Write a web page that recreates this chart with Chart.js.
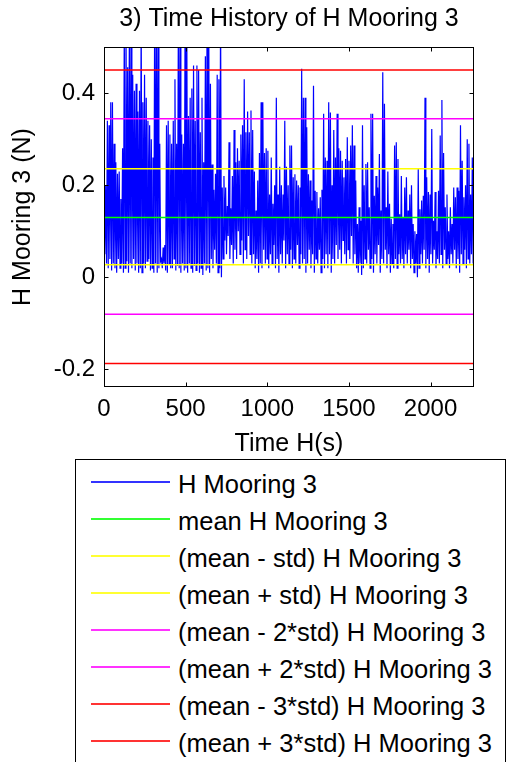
<!DOCTYPE html>
<html>
<head>
<meta charset="utf-8">
<script src="https://cdn.jsdelivr.net/npm/chart.js@4.4.1/dist/chart.umd.min.js"></script>
<style>
  html, body { margin: 0; padding: 0; background: #fff; overflow: hidden; }
  #wrap { position: relative; width: 507px; height: 762px; }
  #legend {
    position: absolute; left: 75px; top: 459px; width: 431px; height: 320px;
    border: 1px solid #000; box-sizing: border-box; background: #fff;
    font-family: 'Liberation Sans', Arial, sans-serif; font-size: 25.5px; color: #000;
  }
  .swatch { position: absolute; left: 15px; width: 79px; height: 2px; opacity: 0.8; }
  .label { position: absolute; left: 102px; line-height: 30px; white-space: nowrap; }
</style>
</head>
<body>
<div id="wrap">
  <canvas id="chart" width="507" height="762"></canvas>
  <div id="legend"></div>
</div>
<script>
// Time history (peak, trough, peak, trough ...)
const seriesName = 'H Mooring 3';
const tEnd = 2266;
const hMooring3 = [
  // 0 - 460 s
  0.18,0.05, 0.20,0.03, 0.34,0.02, 0.33,0.04, 0.38,0.015, 0.38,0.03, 0.29,0.02, 0.25,0.01,
  0.225,0.04, 0.23,0.02, 0.17,0.03, 0.28,0.01, 0.55,0.02, 0.58,0.035, 0.456,0.01, 0.52,0.03,
  0.56,0.02, 0.44,0.04, 0.405,0.015, 0.42,0.03, 0.36,0.01, 0.405,0.02, 0.57,0.01, 0.38,0.03,
  0.44,0.02, 0.39,0.035, 0.34,0.04, 0.33,0.015, 0.30,0.02, 0.26,0.01, 0.60,0.03, 0.55,0.01,
  0.58,0.02, 0.29,0.035, 0.04,0.02, 0.065,0.03, 0.07,0.015, 0.33,0.01, 0.34,0.03, 0.31,0.02,
  0.29,0.02, 0.34,0.04, 0.43,0.015, 0.29,0.025,
  // 460 - 910 s
  0.55,0.02, 0.56,0.01, 0.31,0.03, 0.29,0.015, 0.57,0.02, 0.55,0.01, 0.35,0.03, 0.39,0.02,
  0.41,0.01, 0.46,0.025, 0.34,0.015, 0.46,0.03, 0.45,0.01, 0.315,0.02, 0.39,0.005, 0.25,0.03,
  0.48,0.015, 0.56,0.02, 0.55,0.01, 0.42,0.04, 0.245,0.02, 0.19,0.06, 0.225,0.03, 0.44,0.01,
  0.43,0.02, 0.58,0.0, 0.195,0.04, 0.22,0.08, 0.195,0.05, 0.155,0.09, 0.293,0.04, 0.15,0.07,
  0.22,0.03, 0.32,0.06, 0.25,0.04, 0.28,0.1, 0.253,0.05, 0.31,0.08, 0.33,0.03, 0.43,0.06,
  0.315,0.04, 0.36,0.09, 0.315,0.05, 0.362,0.03,
  // 910 - 1360 s
  0.32,0.05, 0.23,0.02, 0.145,0.04, 0.21,0.01, 0.27,0.03, 0.38,0.02, 0.38,0.06, 0.27,0.03,
  0.28,0.04, 0.275,0.02, 0.18,0.05, 0.26,0.03, 0.16,0.07, 0.20,0.02, 0.39,0.04, 0.18,0.01,
  0.24,0.05, 0.20,0.03, 0.18,0.08, 0.34,0.02, 0.24,0.05, 0.20,0.03, 0.286,0.06, 0.286,0.02,
  0.217,0.04, 0.224,0.03, 0.21,0.07, 0.20,0.02, 0.195,0.05, 0.453,0.03, 0.39,0.04, 0.39,0.01,
  0.326,0.03, 0.224,0.06, 0.21,0.02, 0.167,0.05, 0.416,0.01, 0.188,0.04, 0.185,0.03, 0.15,0.06,
  0.174,0.01, 0.19,0.04, 0.355,0.02, 0.26,0.05,
  // 1360 - 1810 s
  0.253,0.02, 0.38,0.05, 0.358,0.01, 0.20,0.04, 0.32,0.03, 0.26,0.07, 0.355,0.04, 0.28,0.06,
  0.275,0.03, 0.253,0.08, 0.217,0.05, 0.257,0.03, 0.304,0.06, 0.253,0.04, 0.286,0.09, 0.33,0.03,
  0.286,0.05, 0.21,0.02, 0.116,0.01, 0.152,0.03, 0.123,0.005, 0.33,0.02, 0.20,0.04, 0.246,0.03,
  0.25,0.06, 0.152,0.02, 0.355,0.04, 0.355,0.01, 0.177,0.05, 0.22,0.03, 0.195,0.07, 0.268,0.01,
  0.145,0.04, 0.445,0.03, 0.377,0.06, 0.152,0.02, 0.23,0.05, 0.16,0.01, 0.127,0.03, 0.116,0.02,
  0.286,0.04, 0.293,0.02, 0.257,0.05, 0.137,0.03,
  // 1810 - 2266 s
  0.22,0.04, 0.13,0.02, 0.195,0.05, 0.217,0.03, 0.145,0.06, 0.18,0.02, 0.20,0.04, 0.116,0.01,
  0.10,0.03, 0.094,0.0, 0.235,0.02, 0.148,0.05, 0.167,0.03, 0.177,0.06, 0.39,0.02, 0.217,0.04,
  0.185,0.01, 0.18,0.05, 0.322,0.03, 0.123,0.06, 0.185,0.02, 0.10,0.04, 0.188,0.03, 0.308,0.05,
  0.385,0.02, 0.27,0.06, 0.152,0.03, 0.18,0.04, 0.10,0.02, 0.152,0.05, 0.116,0.03, 0.195,0.06,
  0.174,0.02, 0.195,0.04, 0.188,0.01, 0.33,0.05, 0.253,0.03, 0.174,0.06, 0.20,0.02, 0.30,0.04,
  0.29,0.03, 0.18,0.05, 0.26,0.03, 0.246
];

// Horizontal statistic lines
const statNames = [
  'mean H Mooring 3',
  '(mean - std) H Mooring 3',
  '(mean + std) H Mooring 3',
  '(mean - 2*std) H Mooring 3',
  '(mean + 2*std) H Mooring 3',
  '(mean - 3*std) H Mooring 3',
  '(mean + 3*std) H Mooring 3'
];
const statLevels = [0.1297, 0.0272, 0.2360, -0.0800, 0.3440, -0.1868, 0.4500];
const statColors = ['#00ff00', '#ffff00', '#ffff00', '#ff00ff', '#ff00ff', '#ff0000', '#ff0000'];

const xTicks = [0, 500, 1000, 1500, 2000];
const xTickLabels = ['0', '500', '1000', '1500', '2000'];
const yTicks = [-0.2, 0, 0.2, 0.4];
const yTickLabels = ['-0.2', '0', '0.2', '0.4'];
const yMin = -0.238, yMax = 0.5;

const FONT = "'Liberation Sans', Arial, sans-serif";

// MATLAB style box with inward ticks on all four sides
const boxPlugin = {
  id: 'matlabBox',
  afterDraw(chart) {
    const { ctx, chartArea: a, scales: { x, y } } = chart;
    const L = Math.round(a.left) + 0.5, R = Math.round(a.right) - 0.5;
    const T = Math.round(a.top) + 0.5, B = Math.round(a.bottom) - 0.5;
    ctx.save();
    ctx.strokeStyle = '#000';
    ctx.lineWidth = 1;
    ctx.strokeRect(L, T, R - L, B - T);
    ctx.beginPath();
    xTicks.forEach(v => {
      const px = Math.round(x.getPixelForValue(v)) + 0.5;
      ctx.moveTo(px, B); ctx.lineTo(px, B - 4);
      ctx.moveTo(px, T); ctx.lineTo(px, T + 4);
    });
    yTicks.forEach(v => {
      const py = Math.round(y.getPixelForValue(v)) + 0.5;
      ctx.moveTo(L, py); ctx.lineTo(L + 4, py);
      ctx.moveTo(R, py); ctx.lineTo(R - 4, py);
    });
    ctx.stroke();
    ctx.restore();
  }
};

const step = tEnd / (hMooring3.length - 1);
const datasets = [{
  label: seriesName,
  data: hMooring3.map((v, i) => ({ x: i * step, y: v })),
  borderColor: '#0000ff',
  borderWidth: 1.2,
  pointRadius: 0,
  tension: 0,
  order: 1
}];
statLevels.forEach((lvl, i) => {
  datasets.push({
    label: statNames[i],
    data: [{ x: 0, y: lvl }, { x: tEnd, y: lvl }],
    borderColor: statColors[i],
    borderWidth: 1.5,
    pointRadius: 0,
    order: 0
  });
});

new Chart(document.getElementById('chart'), {
  type: 'line',
  data: { datasets },
  options: {
    responsive: false,
    animation: false,
    devicePixelRatio: 1,
    layout: { padding: { top: 0, left: 0, right: 33, bottom: 303 } },
    plugins: {
      legend: { display: false },
      tooltip: { enabled: false },
      title: {
        display: true,
        fullSize: false,
        text: '3) Time History of H Mooring 3',
        color: '#000',
        font: { family: FONT, size: 25, weight: 'normal' },
        padding: { top: 4, bottom: 13 }
      }
    },
    scales: {
      x: {
        type: 'linear',
        min: 0,
        max: tEnd,
        afterBuildTicks: s => { s.ticks = xTicks.map(v => ({ value: v })); },
        afterFit: s => { s.height = 72; },
        grid: { display: false, drawTicks: false },
        border: { display: false },
        ticks: {
          color: '#000', font: { family: FONT, size: 24 }, padding: 8,
          maxRotation: 0, autoSkip: false,
          callback: (v, i) => xTickLabels[i]
        },
        title: {
          display: true, text: 'Time H(s)', color: '#000',
          font: { family: FONT, size: 25 }, padding: { top: 0, bottom: 0 }
        }
      },
      y: {
        type: 'linear',
        min: yMin,
        max: yMax,
        afterBuildTicks: s => { s.ticks = yTicks.map(v => ({ value: v })); },
        afterFit: s => { s.width = 104; },
        grid: { display: false, drawTicks: false },
        border: { display: false },
        ticks: {
          color: '#000', font: { family: FONT, size: 24 }, padding: 9,
          autoSkip: false,
          callback: (v, i) => yTickLabels[i]
        },
        title: {
          display: true, text: 'H Mooring 3 (N)', color: '#000',
          font: { family: FONT, size: 25 }, padding: { top: 8, bottom: 0 }
        }
      }
    }
  },
  plugins: [boxPlugin]
});

// Legend box below the axes
const legend = document.getElementById('legend');
const legendNames = [seriesName].concat(statNames);
const legendColors = ['#0000ff'].concat(statColors);
legendNames.forEach((name, i) => {
  const lineY = Math.round(21 + i * 36.94);
  const sw = document.createElement('div');
  sw.className = 'swatch';
  sw.style.top = lineY + 'px';
  sw.style.backgroundColor = legendColors[i];
  legend.appendChild(sw);
  const lb = document.createElement('div');
  lb.className = 'label';
  lb.style.top = Math.round(lineY + 2.7 - 15) + 'px';
  lb.textContent = name;
  legend.appendChild(lb);
});
</script>
</body>
</html>
